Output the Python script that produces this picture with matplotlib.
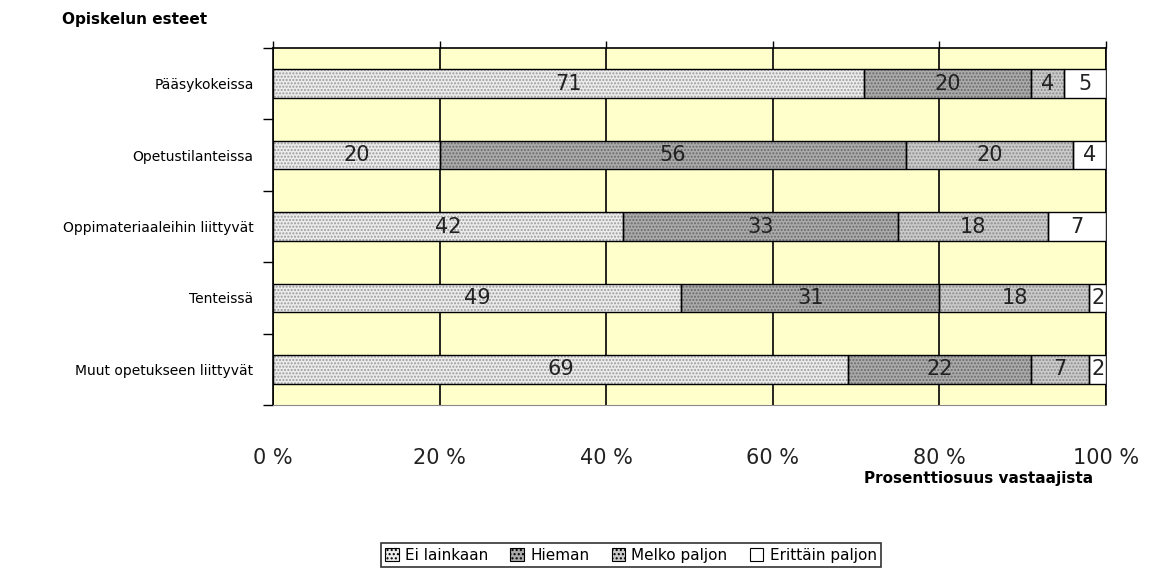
import numpy as np
import matplotlib.pyplot as plt
from matplotlib.ticker import FixedLocator
from matplotlib.patches import Patch

# aineisto
kategoriat = ['Pääsykokeissa', 'Opetustilanteissa', 'Oppimateriaaleihin liittyvät',
              'Tenteissä', 'Muut opetukseen liittyvät']
sarjat = ['Ei lainkaan', 'Hieman', 'Melko paljon', 'Erittäin paljon']
ei_lainkaan = [71, 20, 42, 49, 69]
hieman = [20, 56, 33, 31, 22]
melko_paljon = [4, 20, 18, 18, 7]
erittain_paljon = [5, 4, 7, 2, 2]
x_ticks = [0, 20, 40, 60, 80, 100]

arvot = [ei_lainkaan, hieman, melko_paljon, erittain_paljon]
taustat = ['#ececec', '#ababab', '#cbcbcb', '#ffffff']
pisteet = ['#9a9a9a', '#6a6a6a', '#8c8c8c', None]

fig = plt.figure(figsize=(11.49, 5.82), dpi=100)
ax = fig.add_axes([0.2376, 0.304, 0.725, 0.6135])
ax.set_facecolor('#ffffcc')

y = np.arange(len(kategoriat))
vasen = np.zeros(len(kategoriat))
for nimi, v, fc, pc in zip(sarjat, arvot, taustat, pisteet):
    v = np.array(v, dtype=float)
    if pc is not None:
        plt.rcParams['hatch.color'] = pc
        plt.rcParams['hatch.linewidth'] = 1.0
        ax.barh(y, v, left=vasen, height=0.4, color=fc, hatch='.....',
                edgecolor=pc, linewidth=0, zorder=3)
    else:
        ax.barh(y, v, left=vasen, height=0.4, color=fc, linewidth=0, zorder=3)
    ax.barh(y, v, left=vasen, height=0.4, fill=False, edgecolor='black',
            linewidth=1.0, zorder=4)
    for yi, l, w in zip(y, vasen, v):
        ax.text(l + w / 2, yi, '%d' % w, ha='center', va='center',
                fontsize=15, color='#222222', zorder=5)
    vasen += v

ax.set_xlim(0, 100)
ax.set_ylim(len(kategoriat) - 0.5, -0.5)
ax.xaxis.grid(True, color='black', linewidth=1.2, zorder=1)
ax.set_axisbelow(True)

ax.set_xticks(x_ticks)
ax.set_xticklabels(['%d %%' % t for t in x_ticks], fontsize=15, color='#222222')
ax.tick_params(axis='x', which='major', bottom=False, top=True, direction='out',
               length=5, pad=26, width=1)

ax.set_yticks(y)
ax.set_yticklabels(kategoriat, fontsize=10)
ax.yaxis.set_minor_locator(FixedLocator(np.arange(-0.5, len(kategoriat), 1.0)))
ax.tick_params(axis='y', which='major', length=0, pad=14)
ax.tick_params(axis='y', which='minor', length=7, width=1, direction='out')

for s in ['left', 'top', 'right']:
    ax.spines[s].set_color('black')
    ax.spines[s].set_linewidth(1.2)
ax.spines['bottom'].set_color('#888888')

fig.text(0.054, 0.966, 'Opiskelun esteet', fontsize=11,
         fontweight='bold', ha='left', va='center')
fig.text(0.951, 0.178, 'Prosenttiosuus vastaajista',
         fontsize=11, fontweight='bold', ha='right', va='center')

# selitteen kuviot täytetyillä laatikoilla
kahvat = []
for fc, pc in zip(taustat, pisteet):
    if pc is not None:
        kahvat.append(Patch(facecolor=fc, edgecolor='black', hatch='....', linewidth=0.8))
    else:
        kahvat.append(Patch(facecolor=fc, edgecolor='black', linewidth=0.8))
plt.rcParams['hatch.color'] = '#555555'
leg = fig.legend(kahvat, sarjat, loc='center', bbox_to_anchor=(0.549, 0.046),
                 ncol=4, fontsize=11, frameon=True, fancybox=False,
                 edgecolor='black', handlelength=0.9, handleheight=0.9,
                 handletextpad=0.4, columnspacing=1.45, borderpad=0.3)
leg.get_frame().set_linewidth(1.2)

fig.savefig('out.png', dpi=100)
